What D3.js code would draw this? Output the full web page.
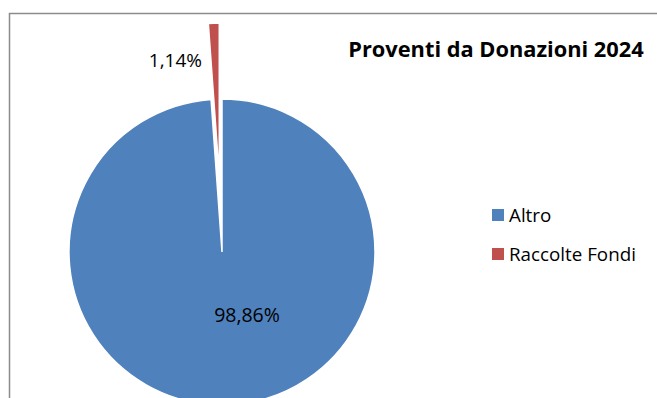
<!DOCTYPE html>
<html>
<head>
<meta charset="utf-8">
<script src="https://cdn.jsdelivr.net/npm/d3@7"></script>
<style>
  html, body { margin: 0; padding: 0; background: #fff; }
  svg { display: block; }
  text { font-family: "Open Sans", "Noto Sans", sans-serif; fill: #000; }
</style>
</head>
<body>
<svg id="chart" width="657" height="398"></svg>
<script>
const title = "Proventi da Donazioni 2024";
const categories = ["Altro", "Raccolte Fondi"];
const values = [98.86, 1.14];
const valueLabels = ["98,86%", "1,14%"];
const colors = ["#4F81BD", "#C0504D"];
const explode = [0, 76];

const W = 657, H = 398;
const svg = d3.select("#chart");

// chart frame
svg.append("rect")
  .attr("x", 9.5).attr("y", 13.5)
  .attr("width", 700).attr("height", 500)
  .attr("fill", "#fff")
  .attr("stroke", "#8c8c8c").attr("stroke-width", 1.5);

const cx = 222, cy = 252, R = 153;
const pie = d3.pie().sort(null).value(d => d)(values);
const arc = d3.arc().innerRadius(0).outerRadius(R);

const g = svg.append("g").attr("transform", `translate(${cx},${cy})`);
g.selectAll("path").data(pie).join("path")
  .attr("d", arc)
  .attr("fill", (d, i) => colors[i])
  .attr("stroke", "#fff").attr("stroke-width", 1.5)
  .attr("transform", (d, i) => {
    const a = (d.startAngle + d.endAngle) / 2;
    const off = explode[i];
    return `translate(${off * Math.sin(a)},${-off * Math.cos(a)})`;
  });

// data labels
const labelPos = [[25, 70], [-20, -185]];
const labelAnchor = ["middle", "end"];
g.selectAll("text.lbl").data(pie).join("text")
  .attr("class", "lbl")
  .attr("x", (d, i) => labelPos[i][0])
  .attr("y", (d, i) => labelPos[i][1])
  .attr("text-anchor", (d, i) => labelAnchor[i])
  .attr("font-size", (d, i) => i === 0 ? 19.5 : 19)
  .text((d, i) => valueLabels[i]);

// title
svg.append("text")
  .attr("x", 496).attr("y", 57)
  .attr("text-anchor", "middle")
  .attr("font-size", 21.8).attr("font-weight", "bold")
  .text(title);

// legend
const leg = svg.append("g").attr("transform", "translate(492,209)");
const items = leg.selectAll("g").data(categories).join("g")
  .attr("transform", (d, i) => `translate(0,${i * 39})`);
items.append("rect").attr("width", 12).attr("height", 12)
  .attr("fill", (d, i) => colors[i]);
items.append("text").attr("x", 17).attr("y", 13)
  .attr("font-size", 18.8).text(d => d);
</script>
</body>
</html>
